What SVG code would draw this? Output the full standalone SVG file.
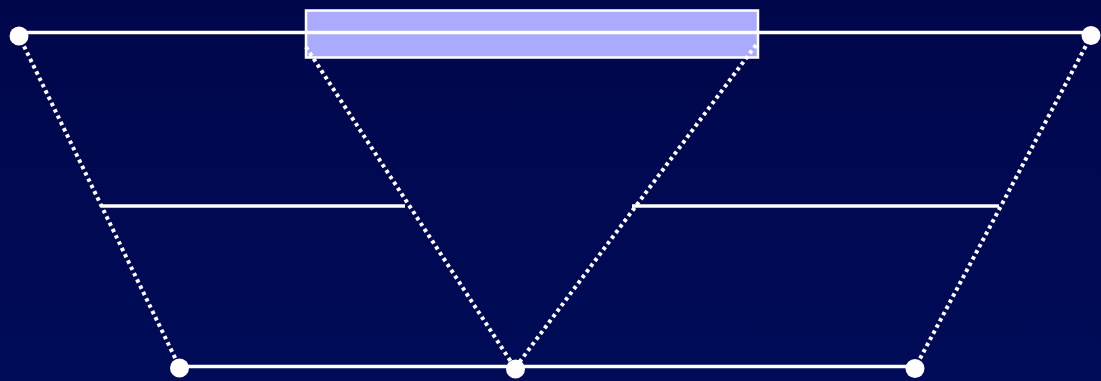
<svg xmlns="http://www.w3.org/2000/svg" width="1101" height="381" viewBox="0 0 1101 381">
<defs>
<linearGradient id="bg" x1="0" y1="0" x2="0" y2="1">
<stop offset="0" stop-color="#00064a"/>
<stop offset="1" stop-color="#000c58"/>
</linearGradient>
<style>
.solid{stroke:#ffffff;stroke-width:3.5;fill:none}
.dot{stroke:#ffffff;stroke-width:4;stroke-dasharray:3.5 3.5;fill:none}
.node{fill:#ffffff}
</style>
</defs>
<rect x="0" y="0" width="1101" height="381" fill="url(#bg)"/>
<g id="box">
<rect x="306" y="10.5" width="452" height="47" fill="#aaaaff" stroke="#ffffff" stroke-width="2.5"/>
</g>
<g id="connectors">
<line class="dot" x1="21" y1="40" x2="180" y2="368"/>
<line class="dot" x1="306" y1="47" x2="515" y2="368"/>
<line class="dot" x1="756" y1="45" x2="515" y2="368"/>
<line class="dot" x1="1089" y1="40" x2="915" y2="368"/>
<line class="solid" x1="19" y1="32.5" x2="1091" y2="32.5"/>
<line class="solid" x1="179" y1="366.5" x2="915" y2="366.5"/>
<line class="solid" x1="101" y1="206" x2="405" y2="206"/>
<line class="solid" x1="632" y1="206" x2="999" y2="206"/>
</g>
<g id="n1"><circle class="node" cx="19" cy="36" r="9.5"/></g>
<g id="n2"><circle class="node" cx="1091" cy="35.5" r="9.5"/></g>
<g id="n3"><circle class="node" cx="179.5" cy="368" r="9.5"/></g>
<g id="n4"><circle class="node" cx="515.5" cy="369" r="9.5"/></g>
<g id="n5"><circle class="node" cx="915" cy="368.5" r="9.5"/></g>
</svg>
